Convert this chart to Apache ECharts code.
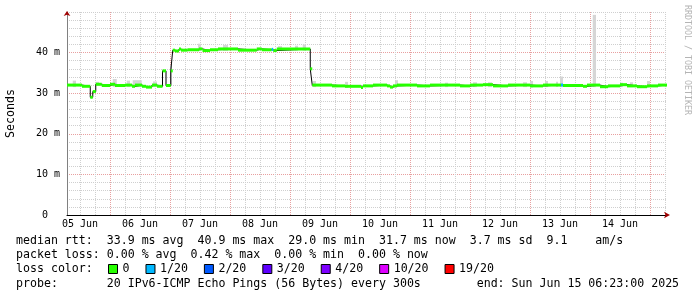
<!DOCTYPE html>
<html>
<head>
<meta charset="utf-8">
<script src="https://cdn.jsdelivr.net/npm/echarts@6/dist/echarts.min.js"></script>
<style>
html, body { margin: 0; padding: 0; background: #fff; }
#chart { width: 697px; height: 297px; }
</style>
</head>
<body>
<div id="chart"></div>
<script>
// x = hours since 05 Jun 00:00
var xStart = 6.8, xEnd = 246.8;
var dayLabels = ['05 Jun', '06 Jun', '07 Jun', '08 Jun', '09 Jun', '10 Jun', '11 Jun', '12 Jun', '13 Jun', '14 Jun'];
var dayLabelHours = [12, 36, 60, 84, 108, 132, 156, 180, 204, 228];
var yLabelValues = [0, 10, 20, 30, 40];

// median rtt: [start hour, ms, lost pings of 20]
var medianSteps = [
    [6.8, 32.0, 0], [12.8, 31.7, 0], [16.1, 29.0, 0], [17.1, 30.4, 0], [18.3, 32.2, 0],
    [20.7, 31.9, 0], [24.0, 32.2, 0], [26.0, 31.9, 0], [30.0, 32.0, 0], [32.8, 31.7, 0],
    [34.0, 32.0, 0], [36.8, 31.7, 0], [38.4, 31.5, 0], [40.8, 32.0, 0], [42.8, 31.7, 0],
    [45.0, 35.5, 0], [46.4, 31.9, 0], [48.3, 35.5, 0], [49.1, 40.6, 0], [50.0, 40.4, 0],
    [51.6, 40.9, 0], [52.4, 40.6, 0], [55.0, 40.7, 0], [59.6, 40.9, 0], [61.0, 40.5, 0],
    [64.0, 40.7, 0], [67.2, 40.9, 0], [75.2, 40.6, 0], [82.7, 40.9, 0], [84.7, 40.7, 0],
    [88.7, 40.8, 1], [89.3, 40.5, 0], [90.7, 40.9, 0], [104.1, 36.0, 0], [104.9, 32.0, 0],
    [112.8, 31.8, 0], [118.0, 31.7, 0], [124.4, 31.4, 0], [125.2, 31.8, 0], [129.2, 32.0, 0],
    [134.8, 31.8, 0], [136.0, 31.5, 0], [137.2, 31.8, 0], [138.8, 32.0, 0], [146.8, 31.8, 0],
    [152.0, 32.0, 0], [164.0, 31.8, 0], [168.0, 32.0, 0], [173.2, 32.1, 0], [177.2, 31.8, 0],
    [183.2, 32.0, 0], [192.0, 31.8, 0], [197.2, 32.0, 0], [204.4, 32.0, 1], [205.2, 31.9, 0],
    [213.2, 31.7, 0], [214.8, 32.0, 0], [220.0, 31.6, 0], [223.2, 31.8, 0], [228.0, 32.1, 0],
    [230.8, 31.8, 0], [234.8, 31.6, 0], [238.8, 31.8, 0], [243.2, 32.0, 0]
];

// smoke (ping spread): [from hour, to hour, low ms, high ms]
var smoke = [
    [9.1, 10.4, 31.5, 33.1], [18.4, 19.6, 31.8, 32.8], [25.1, 26.7, 31.5, 33.5],
    [30.7, 32.0, 31.5, 33.1], [33.1, 36.7, 31.5, 33.2], [41.2, 42.8, 31.5, 32.9],
    [48.0, 48.8, 32.0, 36.9], [59.2, 60.4, 40.4, 42.2], [69.2, 71.2, 40.4, 41.9],
    [91.2, 92.8, 40.5, 41.6], [98.0, 99.2, 40.5, 41.7], [101.1, 102.4, 40.5, 42.0],
    [105.1, 106.4, 31.5, 33.0], [118.0, 119.2, 31.3, 32.8], [138.0, 139.2, 31.5, 33.2],
    [158.0, 159.2, 31.5, 32.6], [169.2, 170.8, 31.5, 32.7], [175.2, 176.8, 31.5, 32.7],
    [189.2, 190.8, 31.5, 32.7], [192.0, 193.2, 31.4, 33.0], [198.0, 199.2, 31.5, 33.0],
    [202.4, 203.2, 31.5, 32.8], [204.0, 205.2, 31.5, 34.1], [217.1, 218.4, 31.5, 49.3],
    [228.0, 229.2, 31.5, 32.6], [232.0, 233.2, 31.5, 32.7], [238.8, 240.0, 31.5, 33.0]
];

var lossNames = ['0', '1/20', '2/20', '3/20', '4/20', '10/20', '19/20'];
var lossLevels = [0, 1, 2, 3, 4, 10, 19];
var lossColors = ['#26ff00', '#00b8ff', '#0059ff', '#5e00ff', '#7e00ff', '#dd00ff', '#ff0000'];

var line1 = 'median rtt:  33.9 ms avg  40.9 ms max  29.0 ms min  31.7 ms now  3.7 ms sd  9.1    am/s';
var line2 = 'packet loss: 0.00 % avg  0.42 % max  0.00 % min  0.00 % now';
var line3 = 'loss color:';
var line4 = 'probe:       20 IPv6-ICMP Echo Pings (56 Bytes) every 300s        end: Sun Jun 15 06:23:00 2025';

var mono = '"DejaVu Sans Mono", monospace';
var gridGray = '#cfcfcf', gridRed = '#e8a0a0', arrowRed = '#a00000';

// grid positions
var xMajor = [], xMinor = [];
for (var h = 12; h < xEnd; h += 6) {
    if (h % 24 === 0) xMajor.push(h); else xMinor.push(h);
}
var yMinor = [];
for (var v = 2; v <= 50; v += 2) {
    if (v % 10 !== 0 || v === 50) yMinor.push(v);
}

// median line pieces
var blackPts = [];
var segs = [];
medianSteps.forEach(function (s, i) {
    var end = i + 1 < medianSteps.length ? medianSteps[i + 1][0] : xEnd;
    blackPts.push([s[0], s[1]], [end, s[1]]);
    segs.push([s[0], end, s[1], s[2]]);
});

function hbar(color) {
    return function (params, api) {
        var p0 = api.coord([api.value(0), api.value(2)]);
        var p1 = api.coord([api.value(1), api.value(2)]);
        return {
            type: 'rect',
            shape: { x: p0[0], y: p0[1] - 1.5, width: p1[0] - p0[0], height: 3 },
            style: { fill: color }
        };
    };
}

var series = [{
    type: 'custom',
    name: 'smoke',
    xAxisIndex: 1, yAxisIndex: 1,
    z: 2,
    encode: { x: [0, 1], y: [2, 3] },
    data: smoke,
    renderItem: function (params, api) {
        var p0 = api.coord([api.value(0), api.value(3)]);
        var p1 = api.coord([api.value(1), api.value(2)]);
        return {
            type: 'rect',
            shape: { x: p0[0], y: p0[1], width: p1[0] - p0[0], height: p1[1] - p0[1] },
            style: { fill: '#d6d6d6' }
        };
    }
}, {
    type: 'line',
    name: 'median',
    xAxisIndex: 1, yAxisIndex: 1,
    z: 3,
    data: blackPts,
    showSymbol: false,
    lineStyle: { color: '#000', width: 1 }
}];

lossLevels.forEach(function (lv, i) {
    series.push({
        type: 'custom',
        name: lossNames[i],
        xAxisIndex: 1, yAxisIndex: 1,
        z: 4,
        itemStyle: { color: lossColors[i] },
        encode: { x: [0, 1], y: 2 },
        data: segs.filter(function (s) { return s[3] === lv; }),
        renderItem: hbar(lossColors[i])
    });
});

var chart = echarts.init(document.getElementById('chart'));
chart.setOption({
    animation: false,
    backgroundColor: '#fff',
    grid: { left: 67, right: 30, top: 12, bottom: 82, outerBoundsMode: 'none', containLabel: false },
    legend: {
        data: lossNames,
        left: 108, top: 263,
        padding: 0,
        icon: 'rect',
        itemWidth: 9, itemHeight: 9, itemGap: 16,
        selectedMode: false,
        itemStyle: { borderColor: '#000', borderWidth: 1 },
        textStyle: { fontFamily: mono, fontSize: 11.6, color: '#000' }
    },
    xAxis: [{
        type: 'value', min: xStart, max: xEnd, position: 'bottom',
        axisLine: { show: false }, axisLabel: { show: false },
        axisTick: { show: false, customValues: xMinor },
        splitLine: { show: true, lineStyle: { color: gridGray, type: [1, 1] } }
    }, {
        type: 'value', min: xStart, max: xEnd, position: 'bottom',
        axisLine: { show: true, onZero: false, lineStyle: { color: '#000', width: 1 } },
        axisTick: { show: false, customValues: xMajor },
        axisLabel: {
            customValues: dayLabelHours,
            formatter: function (v) { return dayLabels[dayLabelHours.indexOf(v)]; },
            fontFamily: mono, fontSize: 10, color: '#000', margin: 4
        },
        splitLine: { show: true, lineStyle: { color: gridRed, type: [1, 1] } }
    }, {
        type: 'value', min: xStart, max: xEnd, position: 'bottom',
        axisLine: { show: true, onZero: false, symbol: ['none', 'arrow'], symbolSize: [5, 6], symbolOffset: [0, 3],
            lineStyle: { color: arrowRed, opacity: 0 } },
        axisTick: { show: false }, axisLabel: { show: false }, splitLine: { show: false }
    }],
    yAxis: [{
        type: 'value', min: 0, max: 50, interval: 2, position: 'left',
        axisLine: { show: false }, axisLabel: { show: false },
        axisTick: { show: false, customValues: yMinor },
        splitLine: { show: true, lineStyle: { color: gridGray, type: [1, 1] } }
    }, {
        type: 'value', min: 0, max: 50, interval: 10, position: 'left',
        name: 'Seconds', nameLocation: 'middle', nameRotate: 90, nameGap: 50,
        nameTextStyle: { fontFamily: mono, fontSize: 11.6, color: '#000' },
        axisLine: { show: true, onZero: false, lineStyle: { color: '#808080', width: 1 } },
        axisTick: { show: false },
        axisLabel: {
            customValues: yLabelValues,
            formatter: function (v) { return v === 0 ? '0  ' : v + ' m'; },
            fontFamily: mono, fontSize: 10, color: '#000', margin: 7
        },
        splitLine: { show: true, showMinLine: false, showMaxLine: false, lineStyle: { color: gridRed, type: [1, 1] } }
    }, {
        type: 'value', min: 0, max: 50, position: 'left',
        axisLine: { show: true, onZero: false, symbol: ['none', 'arrow'], symbolSize: [5, 5], symbolOffset: [0, 1],
            lineStyle: { color: arrowRed, opacity: 0 } },
        axisTick: { show: false }, axisLabel: { show: false }, splitLine: { show: false }
    }],
    graphic: [
        { type: 'text', x: 16, y: 241, style: { text: line1, font: '11.6px ' + mono, fill: '#000', verticalAlign: 'middle' } },
        { type: 'text', x: 16, y: 255, style: { text: line2, font: '11.6px ' + mono, fill: '#000', verticalAlign: 'middle' } },
        { type: 'text', x: 16, y: 269, style: { text: line3, font: '11.6px ' + mono, fill: '#000', verticalAlign: 'middle' } },
        { type: 'text', x: 16, y: 284, style: { text: line4, font: '11.6px ' + mono, fill: '#000', verticalAlign: 'middle' } },
        { type: 'text', x: 687, y: 5, rotation: -Math.PI / 2,
          style: { text: 'RRDTOOL / TOBI OETIKER', font: '8.3px ' + mono, fill: '#b4b4b4', verticalAlign: 'middle' } }
    ],
    series: series
});
</script>
</body>
</html>
